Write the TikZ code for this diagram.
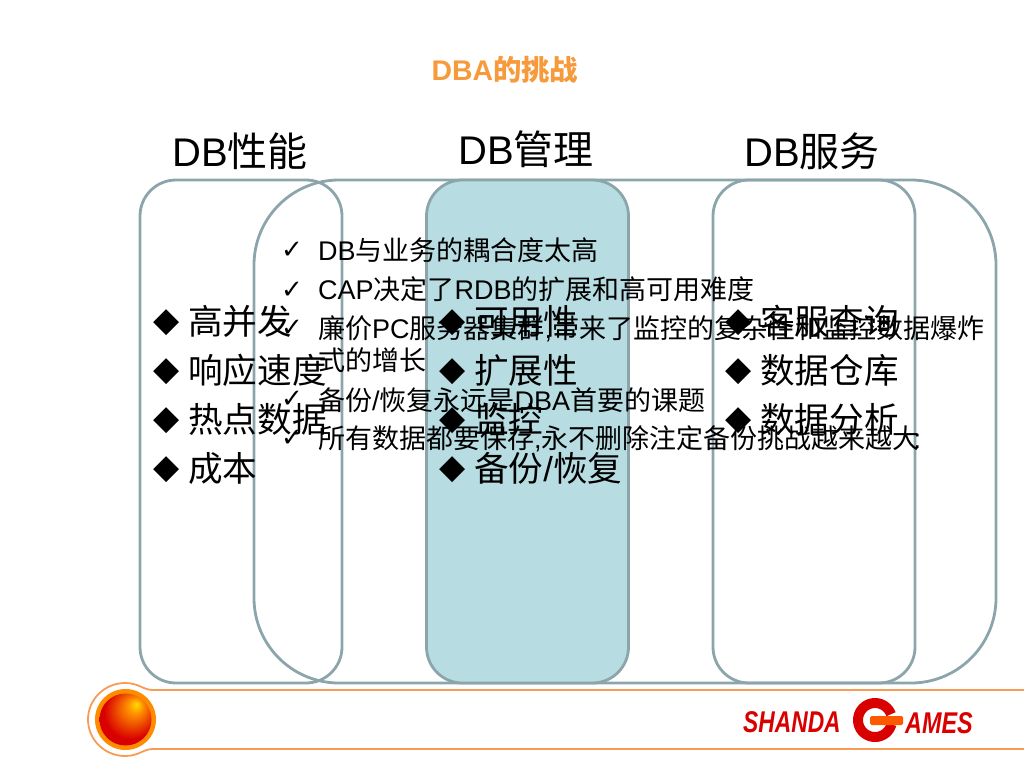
\documentclass[tikz,border=0pt]{standalone}
\usepackage{fontspec}
\setmainfont{Noto Sans CJK SC}
\newfontfamily\latfont{Liberation Sans}
\newfontfamily\symfont{DejaVu Sans}
\newcommand{\lat}[1]{{\latfont #1}}
\definecolor{framegray}{HTML}{8BA5AB}
\definecolor{midfill}{HTML}{B7DDE2}
\definecolor{titleorange}{HTML}{F79A3C}
\definecolor{lineorange}{HTML}{F79B55}
\definecolor{logored}{HTML}{D90000}
\pgfdeclareradialshading{orbshade}{\pgfpoint{11bp}{15bp}}{
    color(0bp)=(yellow!75!orange);
    color(7bp)=(orange!85!yellow);
    color(26bp)=(red!85!black);
    color(50bp)=(red!85!black)}
\tikzset{
    box/.style={draw=framegray, line width=2.8pt, minimum height=503pt, inner sep=0pt},
    heading/.style={anchor=base west, inner sep=0pt, font=\fontsize{40}{40}\selectfont},
    bigitem/.style={anchor=base west, inner sep=0pt, font=\fontsize{34.6}{35}\selectfont},
    smallitem/.style={anchor=base west, inner sep=0pt, font=\fontsize{27}{27}\selectfont},
    logotext/.style={anchor=base west, inner sep=0pt, text=logored, font=\fontsize{30}{30}\latfont\bfseries\itshape}
}
\begin{document}
\begin{tikzpicture}[x=1pt, y=-1pt]
    \useasboundingbox (0,0) rectangle (1024,768);

    \node[anchor=base, inner sep=0pt, text=titleorange, font=\fontsize{28.4}{28}\selectfont\bfseries] (title) at (505,80) {\lat{DBA}的挑战};

    \node[heading] (headperf) at (172,166) {\lat{DB}性能};
    \node[heading] (headadmin) at (458,164) {\lat{DB}管理};
    \node[heading] (headserv) at (744,166) {\lat{DB}服务};

    % frames
    \node[box, rounded corners=85pt, minimum width=742pt] (wide) at (625,431.5) {};
    \node[box, rounded corners=36pt, minimum width=202pt] (perf) at (241,431.5) {};
    \node[box, rounded corners=36pt, minimum width=202pt, fill=midfill] (admin) at (527.5,431.5) {};
    \node[box, rounded corners=36pt, minimum width=202pt] (serv) at (814,431.5) {};

    % three lists
    \foreach \n/\y/\t in {1/334/高并发, 2/383/响应速度, 3/432/热点数据, 4/481/成本}{
        \node[bigitem] (perfmark\n) at (153,\y-3) {\symfont\fontsize{34}{34}\selectfont ◆};
        \node[bigitem] (perfitem\n) at (188,\y) {\t};
    }
    \foreach \n/\y/\t in {1/334/可用性, 2/383/扩展性, 3/432/监控, 4/481/备份\lat{/}恢复}{
        \node[bigitem] (adminmark\n) at (439,\y-3) {\symfont\fontsize{34}{34}\selectfont ◆};
        \node[bigitem] (adminitem\n) at (474,\y) {\t};
    }
    \foreach \n/\y/\t in {1/334/客服查询, 2/383/数据仓库, 3/432/数据分析}{
        \node[bigitem] (servmark\n) at (725,\y-3) {\symfont\fontsize{34}{34}\selectfont ◆};
        \node[bigitem] (servitem\n) at (760,\y) {\t};
    }

    % challenges
    \foreach \n/\y in {1/258, 2/298, 3/336, 4/407, 5/446}{
        \node[smallitem] (tick\n) at (281,\y) {\symfont\fontsize{26}{26}\selectfont ✓};
    }
    \node[smallitem] (line1) at (318,260) {\lat{DB}与业务的耦合度太高};
    \node[smallitem] (line2) at (318,299) {\lat{CAP}决定了\lat{RDB}的扩展和高可用难度};
    \node[smallitem] (line3) at (318,338) {廉价\lat{PC}服务器集群\lat{,}带来了监控的复杂性和监控数据爆炸};
    \node[smallitem] (line3b) at (318,370) {式的增长};
    \node[smallitem] (line4) at (318,410) {备份\lat{/}恢复永远是\lat{DBA}首要的课题};
    \node[smallitem] (line5) at (318,448) {所有数据都要保存\lat{,}永不删除注定备份挑战越来越大\kern-6pt\lat{:}};

    % footer band
    \draw[lineorange, line width=1.8pt] (1024,690) -- (153,690)
        .. controls (143,690) and (139,683) .. (125,683)
        .. controls (105,683) and (88,699) .. (88,719.5)
        .. controls (88,740) and (105,756) .. (125,756)
        .. controls (139,756) and (143,749) .. (153,749) -- (1024,749);
    \fill[orange!90!yellow] (125.5,719.5) circle (30.5pt);
    \shade[shading=orbshade] (125.5,719.5) circle (26pt);

    % logo
    \node[logotext, xscale=0.76] (shanda) at (743,732) {SHANDA};
    \draw[logored, line width=10pt] plot[smooth, domain=15:340, samples=40] ({875+17*cos(\x)},{720+17*sin(\x)});
    \fill[orange!70!red, rounded corners=1.5pt] (870,716) rectangle (903,725);
    \node[logotext, xscale=0.78] (ames) at (905,733) {AMES};
\end{tikzpicture}
\end{document}
